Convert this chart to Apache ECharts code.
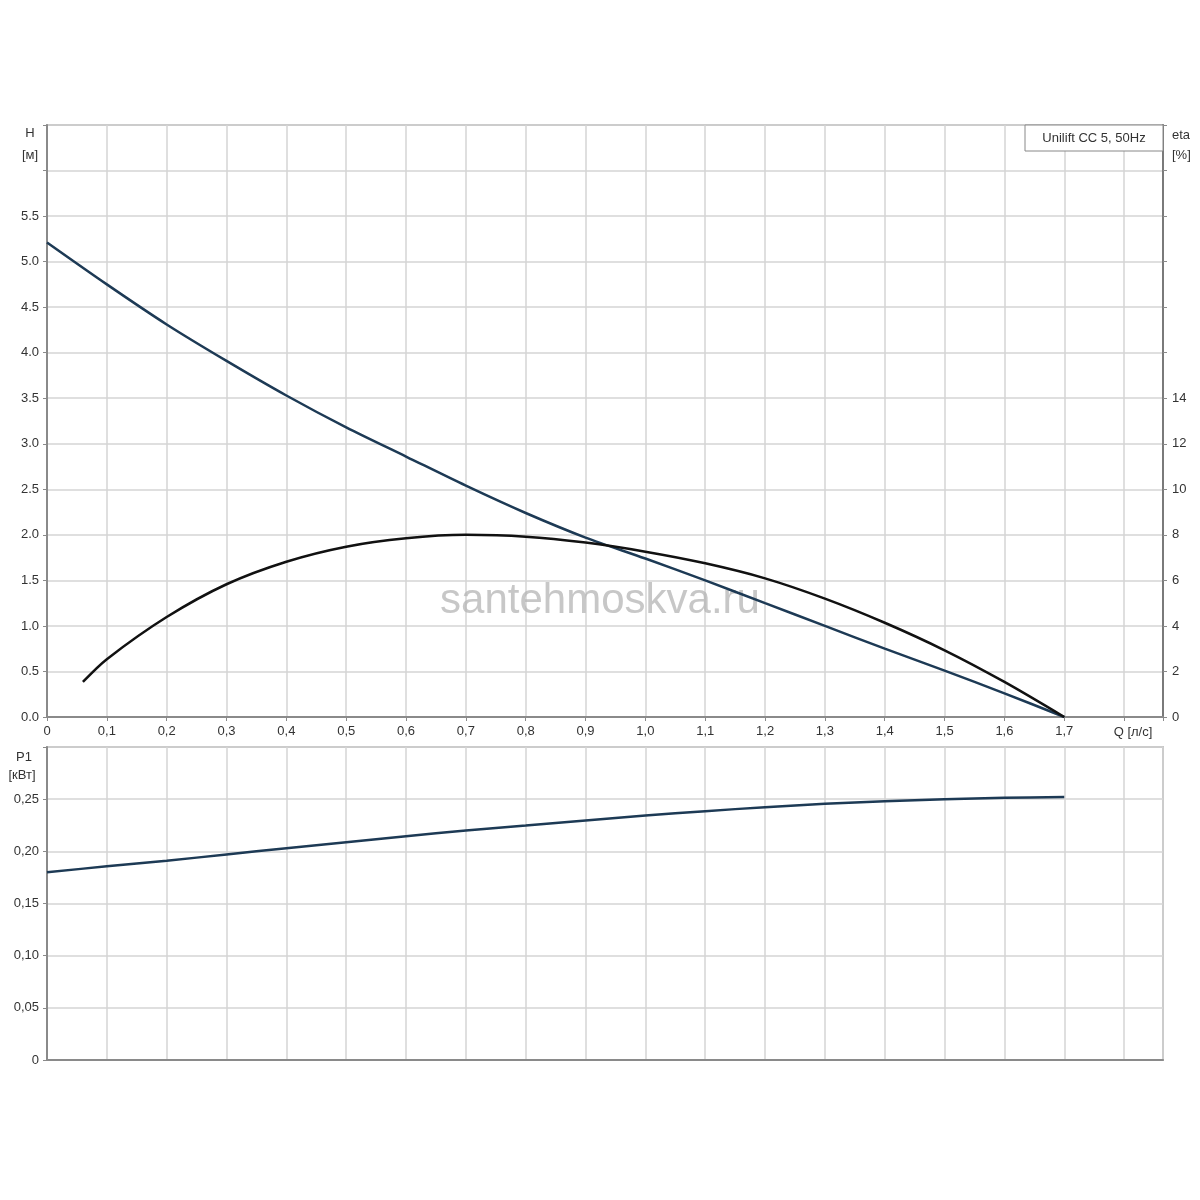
<!DOCTYPE html>
<html><head><meta charset="utf-8">
<script src="https://cdn.jsdelivr.net/npm/echarts@6/dist/echarts.min.js"></script>
<style>html,body{margin:0;padding:0;background:#fff}#c{width:1200px;height:1200px}</style>
</head><body><div id="c"></div>
<script>
// Flow Q [л/с]
const qH = [0,0.1,0.2,0.3,0.4,0.5,0.6,0.7,0.8,0.9,1.0,1.1,1.2,1.3,1.4,1.5,1.6,1.7];
// Head H [м]
const headH = [5.21,4.75,4.31,3.91,3.53,3.18,2.86,2.54,2.24,1.97,1.74,1.50,1.25,1.00,0.75,0.51,0.26,0];
// Efficiency eta [%]
const qEta = [0.06,0.1,0.2,0.3,0.4,0.5,0.6,0.7,0.8,0.9,1.0,1.1,1.2,1.3,1.4,1.5,1.6,1.7];
const eta = [1.54,2.54,4.39,5.83,6.82,7.48,7.85,8.0,7.92,7.66,7.26,6.75,6.09,5.2,4.14,2.93,1.54,0];
// Power P1 [кВт]
const qP1 = [0,0.1,0.2,0.3,0.4,0.5,0.6,0.7,0.8,0.9,1.0,1.1,1.2,1.3,1.4,1.5,1.6,1.7];
const p1 = [0.180,0.1856,0.191,0.197,0.203,0.2087,0.2144,0.220,0.2247,0.2295,0.2343,0.2385,0.2423,0.2455,0.248,0.250,0.2513,0.252];
// Tick label limits
const qLabelMax = 1.7, hLabelMax = 5.5, etaLabelMax = 14, p1LabelMax = 0.25;
const title = 'Unilift CC 5, 50Hz';

const FONT = "'Liberation Sans', Arial, sans-serif";
const TXT = '#333';
const GRIDC = '#d4d4d4';
const AXC = '#8a8a8a';
const BLUE = '#1d3a55';

const pairs = (xs, ys) => xs.map((x, i) => [x, ys[i]]);
const eps = 1e-6;

const chart = echarts.init(document.getElementById('c'), null, {renderer: 'canvas'});

const xCommon = {
  type: 'value', min: 0, max: 1.865, interval: 0.1,
  axisLine: {show: true, lineStyle: {color: AXC, width: 2}},
  axisTick: {show: true, length: 4, lineStyle: {color: AXC}},
  splitLine: {show: true, lineStyle: {color: GRIDC, width: 1.5}}
};

chart.setOption({
  animation: false,
  backgroundColor: '#fff',
  grid: [
    {left: 47, right: 37, top: 125, bottom: 483, show: true, borderColor: '#9a9a9a', borderWidth: 1.5},
    {left: 47, right: 37, top: 747, bottom: 140, show: true, borderColor: '#9a9a9a', borderWidth: 1.5}
  ],
  xAxis: [
    Object.assign({}, xCommon, {
      gridIndex: 0,
      axisLabel: {
        color: TXT, fontFamily: FONT, fontSize: 13, margin: 8,
        formatter: v => v > qLabelMax + eps ? '' : (v === 0 ? '0' : v.toFixed(1).replace('.', ','))
      }
    }),
    Object.assign({}, xCommon, {
      gridIndex: 1,
      axisTick: {show: false},
      axisLabel: {show: false}
    })
  ],
  yAxis: [
    {
      type: 'value', gridIndex: 0, min: 0, max: 6.5, interval: 0.5, position: 'left',
      axisLine: {show: true, lineStyle: {color: AXC, width: 2}},
      axisTick: {show: true, length: 4, lineStyle: {color: AXC}},
      splitLine: {show: true, lineStyle: {color: GRIDC, width: 1.5}},
      axisLabel: {color: TXT, fontFamily: FONT, fontSize: 13, margin: 8,
        formatter: v => v > hLabelMax + eps ? '' : v.toFixed(1)}
    },
    {
      type: 'value', gridIndex: 0, min: 0, max: 26, interval: 2, position: 'right',
      axisLine: {show: true, lineStyle: {color: '#7a7a7a', width: 2}},
      axisTick: {show: true, length: 4, lineStyle: {color: AXC}},
      splitLine: {show: false},
      axisLabel: {color: TXT, fontFamily: FONT, fontSize: 13, margin: 9,
        formatter: v => v > etaLabelMax + eps ? '' : String(v)}
    },
    {
      type: 'value', gridIndex: 1, min: 0, max: 0.30, interval: 0.05, position: 'left',
      axisLine: {show: true, lineStyle: {color: AXC, width: 2}},
      axisTick: {show: true, length: 4, lineStyle: {color: AXC}},
      splitLine: {show: true, lineStyle: {color: GRIDC, width: 1.5}},
      axisLabel: {color: TXT, fontFamily: FONT, fontSize: 13, margin: 8,
        formatter: v => v > p1LabelMax + eps ? '' : (v === 0 ? '0' : v.toFixed(2).replace('.', ','))}
    }
  ],
  graphic: [
    {type: 'text', z: 1, x: 600, y: 601, style: {text: 'santehmoskva.ru', fill: 'rgba(180,180,180,0.75)', font: "42px 'Liberation Sans', Arial, sans-serif", textAlign: 'center', textVerticalAlign: 'middle'}},
    {type: 'text', x: 30, y: 133, style: {text: 'H', fill: TXT, font: "13px " + FONT, textAlign: 'center', textVerticalAlign: 'middle'}},
    {type: 'text', x: 30, y: 155, style: {text: '[м]', fill: TXT, font: "13px " + FONT, textAlign: 'center', textVerticalAlign: 'middle'}},
    {type: 'text', x: 1172, y: 135, style: {text: 'eta', fill: TXT, font: "13px " + FONT, textAlign: 'left', textVerticalAlign: 'middle'}},
    {type: 'text', x: 1172, y: 155, style: {text: '[%]', fill: TXT, font: "13px " + FONT, textAlign: 'left', textVerticalAlign: 'middle'}},
    {type: 'text', x: 24, y: 757, style: {text: 'P1', fill: TXT, font: "13px " + FONT, textAlign: 'center', textVerticalAlign: 'middle'}},
    {type: 'text', x: 22, y: 775, style: {text: '[кВт]', fill: TXT, font: "13px " + FONT, textAlign: 'center', textVerticalAlign: 'middle'}},
    {type: 'text', x: 1133, y: 732, style: {text: 'Q [л/с]', fill: TXT, font: "13px " + FONT, textAlign: 'center', textVerticalAlign: 'middle'}},
    {type: 'rect', z: 10, shape: {x: 1025, y: 125, width: 138, height: 26}, style: {fill: '#fff', stroke: '#888', lineWidth: 1}},
    {type: 'text', z: 11, x: 1094, y: 138, style: {text: title, fill: TXT, font: "13px " + FONT, textAlign: 'center', textVerticalAlign: 'middle'}}
  ],
  series: [
    {name: 'H', type: 'line', xAxisIndex: 0, yAxisIndex: 0, data: pairs(qH, headH),
      smooth: 0.3, showSymbol: false, z: 3, lineStyle: {color: BLUE, width: 2.5}},
    {name: 'eta', type: 'line', xAxisIndex: 0, yAxisIndex: 1, data: pairs(qEta, eta),
      smooth: 0.3, showSymbol: false, z: 4, lineStyle: {color: '#111', width: 2.5}},
    {name: 'P1', type: 'line', xAxisIndex: 1, yAxisIndex: 2, data: pairs(qP1, p1),
      smooth: 0.3, showSymbol: false, z: 3, lineStyle: {color: BLUE, width: 2.5}}
  ]
});
</script>
</body></html>
